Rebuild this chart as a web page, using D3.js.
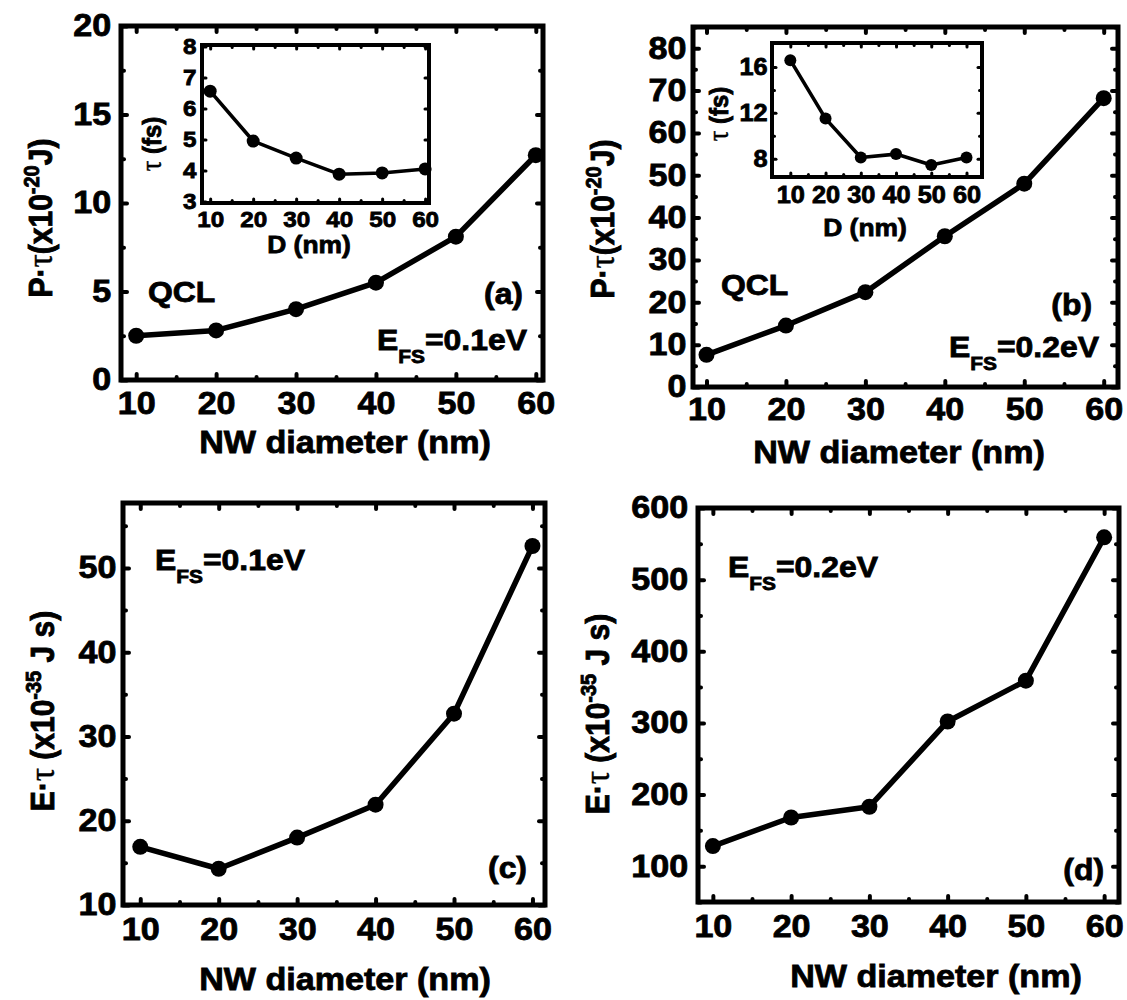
<!DOCTYPE html>
<html>
<head>
<meta charset="utf-8">
<script src="https://cdn.jsdelivr.net/npm/d3@7"></script>
<style>
  body { margin: 0; background: #fff; }
  svg text { font-family: "Liberation Sans", Arial, sans-serif; font-weight: bold; fill: #000;
             stroke: #000; stroke-width: 0.8px; }
  svg tspan.tau { font-family: "Liberation Serif", "DejaVu Serif", serif; font-weight: normal; stroke-width: 0.4px; }
</style>
</head>
<body>
<svg id="fig" width="1127" height="1000"></svg>
<script>
// values
var diameters = [10, 20, 30, 40, 50, 60];
var ptauA = [2.5, 2.8, 4.0, 5.5, 8.1, 12.7];     // (a) P.tau, x1e-20 J
var tauA  = [6.56, 4.95, 4.4, 3.88, 3.92, 4.05]; // (a) inset tau, fs
var ptauB = [7.6, 14.5, 22.4, 35.6, 48.0, 68.2]; // (b) P.tau, x1e-20 J
var tauB  = [16.6, 11.5, 8.1, 8.4, 7.45, 8.1];   // (b) inset tau, fs
var etauC = [16.9, 14.3, 18.0, 21.9, 32.7, 52.6]; // (c) E.tau, x1e-35 J s
var etauD = [128, 168, 183, 302, 359, 559];       // (d) E.tau, x1e-35 J s

var xTicks   = [10, 20, 30, 40, 50, 60];
var yTicksA  = [0, 5, 10, 15, 20];
var yTicksAi = [3, 4, 5, 6, 7, 8];
var yTicksB  = [0, 10, 20, 30, 40, 50, 60, 70, 80];
var yTicksBi = [8, 12, 16];
var yTicksC  = [10, 20, 30, 40, 50];
var yTicksD  = [100, 200, 300, 400, 500, 600];

var SX = 1.1; // the printed figure's lettering is a bit wider than Arial
var svg = d3.select('#fig');

function plot(o) {
  var x = d3.scaleLinear().domain(o.xDomain).range([o.left, o.right]);
  var y = d3.scaleLinear().domain(o.yDomain).range([o.bottom, o.top]);
  var g = svg.append('g');

  g.append('rect')
    .attr('x', o.left).attr('y', o.top)
    .attr('width', o.right - o.left).attr('height', o.bottom - o.top)
    .style('fill', '#fff').style('stroke', '#000').style('stroke-width', o.frame);

  function ax(gen, scale, vals, len, fmt, tx, ty, pad) {
    var a = g.append('g')
      .attr('transform', 'translate(' + tx + ',' + ty + ')')
      .call(gen(scale).tickValues(vals).tickSize(-len).tickPadding(pad || 0)
        .tickFormat(fmt ? d3.format('d') : ''));
    a.select('.domain').remove();
    a.selectAll('line').style('stroke-width', o.tickW).style('stroke-linecap', 'round');
    a.attr('font-family', null).attr('font-size', null);
    a.selectAll('text').style('font-size', o.font + 'px')
      .attr('transform', 'scale(' + SX + ',1)');
    return a;
  }
  var xMinor = minorTicks(5, 10, 60, o.xTicks);
  ax(d3.axisBottom, x, o.xTicks, o.tick, true, 0, o.bottom, o.xPad);
  ax(d3.axisBottom, x, xMinor, o.minor, false, 0, o.bottom);
  ax(d3.axisTop, x, o.xTicks, o.tick, false, 0, o.top);
  ax(d3.axisTop, x, xMinor, o.minor, false, 0, o.top);
  ax(d3.axisLeft, y, o.yTicks, o.tick, true, o.left, 0, o.yPad);
  ax(d3.axisLeft, y, o.yMinor, o.minor, false, o.left, 0);
  ax(d3.axisRight, y, o.yTicks, o.tick, false, o.right, 0);
  ax(d3.axisRight, y, o.yMinor, o.minor, false, o.right, 0);

  var pts = diameters.map(function(d, i) { return [d, o.values[i]]; });
  g.append('path')
    .datum(pts)
    .attr('d', d3.line().x(function(d) { return x(d[0]); }).y(function(d) { return y(d[1]); }))
    .style('fill', 'none').style('stroke', '#000')
    .style('stroke-width', o.lineW).style('stroke-linejoin', 'round');
  g.selectAll('.dot').data(pts).enter()
    .append('circle')
    .attr('cx', function(d) { return x(d[0]); })
    .attr('cy', function(d) { return y(d[1]); })
    .attr('r', o.r)
    .style('fill', '#000');
  return g;
}

function minorTicks(step, lo, hi, majors) {
  return d3.range(lo, hi + 1e-9, step).filter(function(v) { return majors.indexOf(v) < 0; });
}

// text placed at (x, base), stretched horizontally
function txt(x, base, size, anchor) {
  return svg.append('g')
    .attr('transform', 'translate(' + x + ',' + base + ') scale(' + SX + ',1)')
    .append('text')
    .attr('text-anchor', anchor || 'start')
    .style('font-size', size + 'px');
}
function xTitle(text, cx, base, size) {
  txt(cx, base, size, 'middle').text(text);
}
// segments: plain strings, {tau: s} for the Greek letter, {sup: s} for an exponent
function yTitle(segs, bx, cy, size) {
  var t = svg.append('text')
    .attr('transform', 'translate(' + bx + ',' + cy + ') rotate(-90) scale(1,' + SX + ')')
    .attr('text-anchor', 'middle').style('font-size', size + 'px');
  var raised = false;
  segs.forEach(function(s) {
    var sp = t.append('tspan');
    if (typeof s === 'string') {
      if (raised) { sp.attr('dy', 12); raised = false; }
      sp.text(s);
    } else if (s.tau) {
      sp.attr('class', 'tau').style('font-size', (size * 1.1) + 'px').text(s.tau);
    } else {
      sp.attr('dy', -12).style('font-size', '20px').text(s.sup);
      raised = true;
    }
  });
}
function label(text, x, base, anchor) {
  txt(x, base, 29, anchor).text(text);
}
function efs(val, x, base) {
  var t = txt(x, base, 29);
  t.append('tspan').text('E');
  t.append('tspan').attr('dy', 13).style('font-size', '19px').text('FS');
  t.append('tspan').attr('dy', -13).text('=' + val + 'eV');
}

var mainStyle = { frame: 5, tickW: 4, tick: 6, minor: 3, font: 31, lineW: 5.5, r: 8 };
var insetStyle = { frame: 4, tickW: 3, tick: 4, minor: 2.5, lineW: 3.6, r: 6.5 };
function merge(a, b) { return Object.assign({}, a, b); }

// (a)
plot(merge(mainStyle, {
  left: 121, right: 543, top: 26, bottom: 380,
  xDomain: [8.1, 60.9], yDomain: [0, 20],
  xTicks: xTicks, yTicks: yTicksA, yMinor: minorTicks(2.5, 0, 20, yTicksA),
  xPad: 12, yPad: 9, values: ptauA
}));
// (a) inset
plot(merge(insetStyle, {
  left: 202, right: 429, top: 45, bottom: 203,
  xDomain: [8.1, 60.9], yDomain: [2.95, 8.05], font: 22,
  xTicks: xTicks, yTicks: yTicksAi, yMinor: [],
  xPad: 8, yPad: 5, values: tauA
}));

// (b)
plot(merge(mainStyle, {
  left: 693, right: 1118, top: 27, bottom: 387,
  xDomain: [8.3, 61.8], yDomain: [0, 85],
  xTicks: xTicks, yTicks: yTicksB, yMinor: minorTicks(5, 0, 85, yTicksB),
  xPad: 11, yPad: 6, values: ptauB
}));
// (b) inset
plot(merge(insetStyle, {
  left: 772, right: 982, top: 43, bottom: 177,
  xDomain: [4.8, 64.4], yDomain: [6.4, 18.1], font: 23, r: 6,
  xTicks: xTicks, yTicks: yTicksBi, yMinor: minorTicks(2, 8, 16, yTicksBi),
  xPad: 10, yPad: 4, values: tauB
}));

// (c)
plot(merge(mainStyle, {
  left: 123, right: 545, top: 503, bottom: 905,
  xDomain: [7.8, 61.6], yDomain: [10, 57.7],
  xTicks: xTicks, yTicks: yTicksC, yMinor: minorTicks(5, 10, 55, yTicksC),
  xPad: 13, yPad: 6, values: etauC
}));

// (d)
plot(merge(mainStyle, {
  left: 698, right: 1119, top: 508, bottom: 902,
  xDomain: [8.1, 61.9], yDomain: [50, 600],
  xTicks: xTicks, yTicks: yTicksD, yMinor: minorTicks(50, 50, 600, yTicksD),
  xPad: 13, yPad: 9, values: etauD
}));

// titles
xTitle('NW diameter (nm)', 345, 453, 31);
xTitle('NW diameter (nm)', 899, 463, 31);
xTitle('NW diameter (nm)', 345, 990, 31);
xTitle('NW diameter (nm)', 936, 987, 31);
xTitle('D (nm)', 309, 253, 24);
xTitle('D (nm)', 865, 236, 24);

yTitle(['P\u00b7', {tau: '\u03c4'}, '(x10', {sup: '-20'}, 'J)'], 52, 218, 30);
yTitle(['P\u00b7', {tau: '\u03c4'}, '(x10', {sup: '-20'}, 'J)'], 614, 219, 30);
yTitle(['E\u00b7', {tau: '\u03c4'}, ' (x10', {sup: '-35'}, ' J s)'], 54, 711, 30);
yTitle(['E\u00b7', {tau: '\u03c4'}, ' (x10', {sup: '-35'}, ' J s)'], 609, 714, 30);
yTitle([{tau: '\u03c4'}, ' (fs)'], 161, 144, 24);
yTitle([{tau: '\u03c4'}, ' (fs)'], 728, 114, 24);

// annotations
label('QCL', 148, 302);
label('(a)', 523, 304, 'end');
efs('0.1', 377, 350);
label('QCL', 721, 295);
label('(b)', 1092, 315, 'end');
efs('0.2', 949, 357);
efs('0.1', 155, 570);
label('(c)', 527, 878, 'end');
efs('0.2', 728, 577);
label('(d)', 1104, 880, 'end');
</script>
</body>
</html>
